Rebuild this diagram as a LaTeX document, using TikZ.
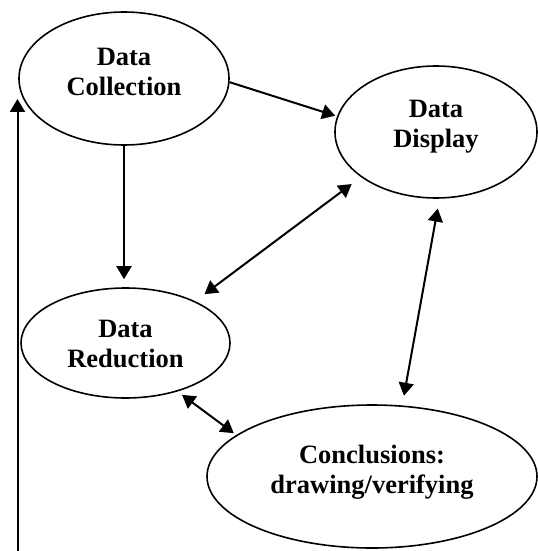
\documentclass[tikz,border=0pt]{standalone}
\usepackage{fontspec}
\setmainfont{Liberation Serif}
\usetikzlibrary{arrows.meta,shapes.geometric}
\begin{document}
\begin{tikzpicture}[x=0.5pt,y=-0.5pt,
  ell/.style={ellipse,draw,line width=0.8pt,inner sep=0pt},
  txt/.style={font=\bfseries\fontsize{13.25}{15}\selectfont,align=center},
  arr/.style={line width=1pt,-{Triangle[length=6.5pt,width=7.5pt]}},
  darr/.style={line width=1pt,{Triangle[length=6.5pt,width=7.5pt]}-{Triangle[length=6.5pt,width=7.5pt]}}]
\useasboundingbox (0,0) rectangle (537,551);
\node[ell,minimum width=105pt,minimum height=66.5pt,label={[txt,yshift=3.25pt]center:Data\\Collection}] (coll) at (124,78.5) {};
\node[ell,minimum width=101pt,minimum height=66pt,label={[txt,yshift=2.5pt]center:Data\\Display}] (disp) at (436,132) {};
\node[ell,minimum width=104.5pt,minimum height=55pt,label={[txt,yshift=-0.5pt]center:Data\\Reduction}] (red) at (125.5,343) {};
\node[ell,minimum width=165pt,minimum height=71.5pt,label={[txt,yshift=2.25pt]center:Conclusions:\\drawing/verifying}] (conc) at (372,476.5) {};
\draw[arr,shorten >=4pt] (coll.south) -- (coll.south |- red.north);
\draw[arr,shorten >=1pt] (coll.-2.5) -- (disp.171.3);
\draw[darr,shorten <=5.8pt,shorten >=5.8pt] (red.31.8) -- (disp.211.3);
\draw[darr,shorten <=5pt,shorten >=4.9pt] (disp.-87) -- (conc.67.5);
\draw[darr,shorten <=2.8pt,shorten >=1.5pt] (red.-43.7) -- (conc.163.4);
\coordinate (loopstart) at (17.5,551);
\draw[arr,shorten >=10.25pt] (loopstart) -- (loopstart |- coll.west);
\end{tikzpicture}
\end{document}
